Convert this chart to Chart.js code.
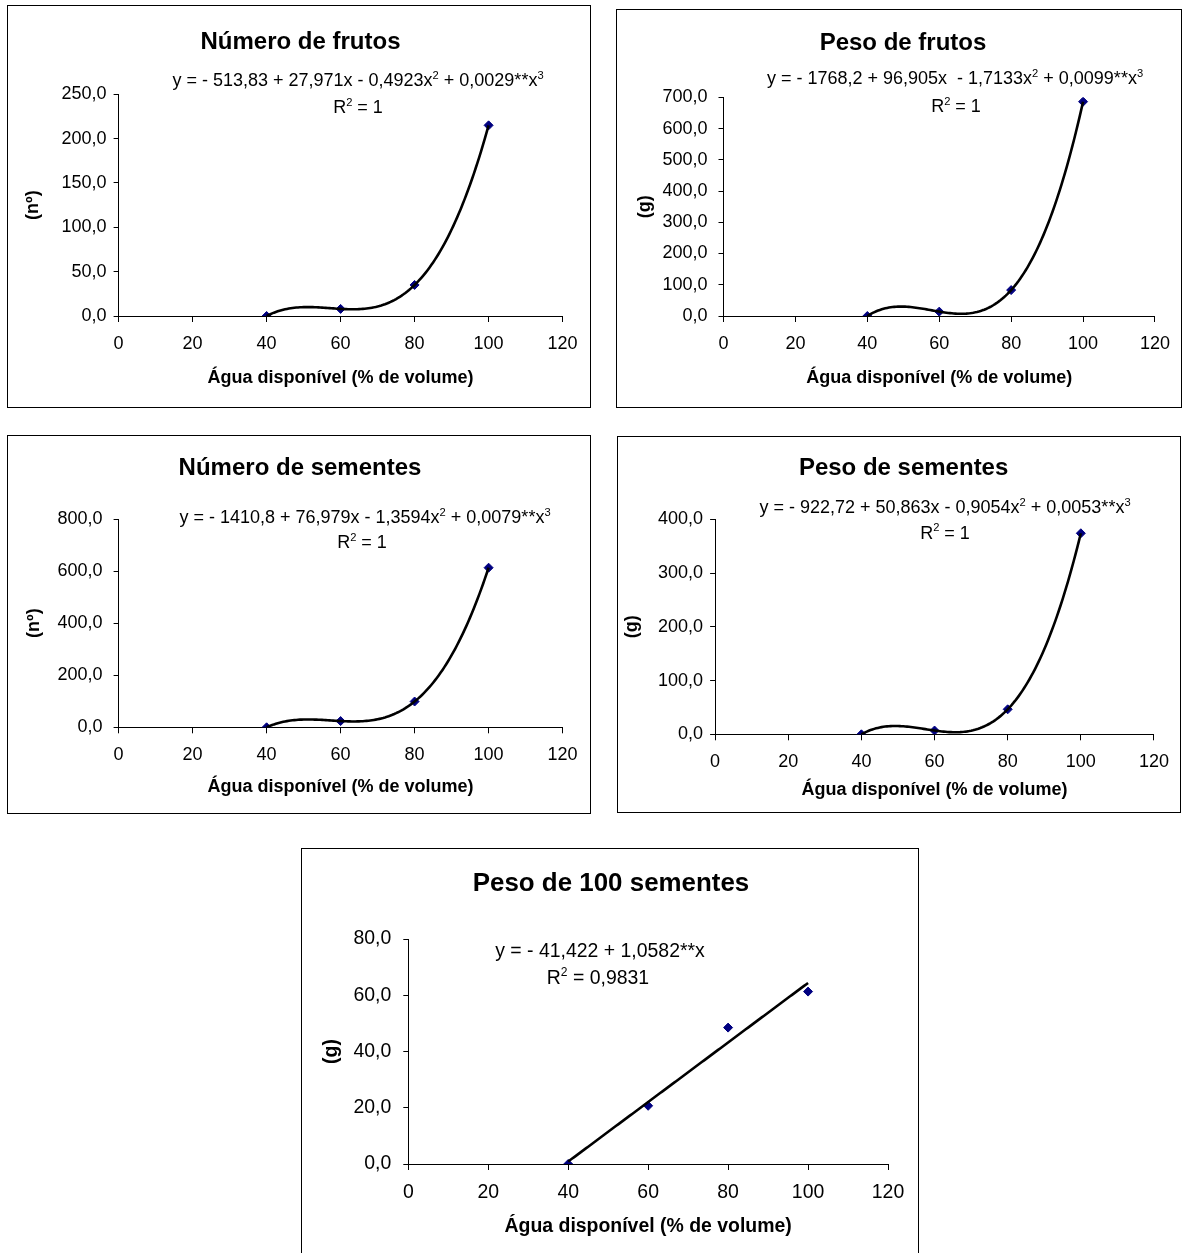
<!DOCTYPE html>
<html>
<head>
<meta charset="utf-8">
<script src="https://cdn.jsdelivr.net/npm/chart.js@4.4.0/dist/chart.umd.min.js"></script>
<style>
  html, body { margin: 0; padding: 0; background: #fff; }
  body { width: 1183px; height: 1253px; position: relative; overflow: hidden; }
  .panel { position: absolute; border: 1px solid #000; box-sizing: border-box; background: #fff; }
  .panel canvas { position: absolute; left: 0; top: 0; }
</style>
</head>
<body>
<div id="p1" class="panel"><canvas></canvas></div>
<div id="p2" class="panel"><canvas></canvas></div>
<div id="p3" class="panel"><canvas></canvas></div>
<div id="p4" class="panel"><canvas></canvas></div>
<div id="p5" class="panel"><canvas></canvas></div>
<script>
// Available water levels (% of volume) and the x-axis ticks
const waterLevels = [40, 60, 80, 100];
const xTicks = [0, 20, 40, 60, 80, 100, 120];
const xAxisTitle = 'Água disponível (% de volume)';

// Measured responses at each water level
const fruitCount   = [0, 8, 35, 215];
const fruitWeight  = [0, 14, 83, 686];
const seedCount    = [0, 24, 99, 613];
const seedWeight   = [0, 7, 46.5, 374];
const seed100Weight = [0, 20.7, 48.5, 61.3];

// Y-axis ticks per panel
const fruitCountTicks   = [0, 50, 100, 150, 200, 250];
const fruitWeightTicks  = [0, 100, 200, 300, 400, 500, 600, 700];
const seedCountTicks    = [0, 200, 400, 600, 800];
const seedWeightTicks   = [0, 100, 200, 300, 400];
const seed100WeightTicks = [0, 20, 40, 60, 80];

// Titles, regression equations (inner arrays are superscripts) and R²
const titles = ['Número de frutos', 'Peso de frutos', 'Número de sementes', 'Peso de sementes', 'Peso de 100 sementes'];
const yLabels = ['(nº)', '(g)', '(nº)', '(g)', '(g)'];
const equations = [
  ['y = - 513,83 + 27,971x - 0,4923x', ['2'], ' + 0,0029**x', ['3']],
  ['y = - 1768,2 + 96,905x  - 1,7133x', ['2'], ' + 0,0099**x', ['3']],
  ['y = - 1410,8 + 76,979x - 1,3594x', ['2'], ' + 0,0079**x', ['3']],
  ['y = - 922,72 + 50,863x - 0,9054x', ['2'], ' + 0,0053**x', ['3']],
  ['y = - 41,422 + 1,0582**x']
];
const r2Labels = [
  ['R', ['2'], ' = 1'],
  ['R', ['2'], ' = 1'],
  ['R', ['2'], ' = 1'],
  ['R', ['2'], ' = 1'],
  ['R', ['2'], ' = 0,9831']
];

const FONT = '"Liberation Sans", Arial, sans-serif';

// Least-squares polynomial fit (x centred and scaled for conditioning)
function fitPolynomial(xs, ys, degree) {
  const n = degree + 1;
  const mid = (xs[0] + xs[xs.length - 1]) / 2;
  const half = (xs[xs.length - 1] - xs[0]) / 2;
  const A = Array.from({ length: n }, () => new Array(n + 1).fill(0));
  xs.forEach((x0, i) => {
    const u = (x0 - mid) / half;
    for (let r = 0; r < n; r++) {
      for (let c = 0; c < n; c++) A[r][c] += Math.pow(u, r + c);
      A[r][n] += ys[i] * Math.pow(u, r);
    }
  });
  for (let col = 0; col < n; col++) {
    let piv = col;
    for (let r = col + 1; r < n; r++) if (Math.abs(A[r][col]) > Math.abs(A[piv][col])) piv = r;
    [A[col], A[piv]] = [A[piv], A[col]];
    for (let r = 0; r < n; r++) {
      if (r === col) continue;
      const f = A[r][col] / A[col][col];
      for (let c = col; c <= n; c++) A[r][c] -= f * A[col][c];
    }
  }
  const coef = A.map((row, i) => row[n] / row[i]);
  return x => {
    const u = (x - mid) / half;
    return coef.reduce((s, c, i) => s + c * Math.pow(u, i), 0);
  };
}

// Text with superscript pieces, centred on (cx, cy)
function drawRich(ctx, segs, cx, cy, size, bold) {
  const supSize = size * 0.62;
  const weight = bold ? 'bold ' : '';
  const parts = segs.map(s => Array.isArray(s) ? { t: s[0], sup: true } : { t: s, sup: false });
  let total = 0;
  parts.forEach(p => {
    ctx.font = weight + (p.sup ? supSize : size) + 'px ' + FONT;
    p.w = ctx.measureText(p.t).width;
    total += p.w;
  });
  let x = cx - total / 2;
  const base = cy + size * 0.358;
  ctx.textAlign = 'left';
  ctx.textBaseline = 'alphabetic';
  parts.forEach(p => {
    ctx.font = weight + (p.sup ? supSize : size) + 'px ' + FONT;
    ctx.fillText(p.t, x, p.sup ? base - size * 0.42 : base);
    x += p.w;
  });
}

const fmtY = v => v.toFixed(1).replace('.', ',');

const panels = [
  { id: 'p1', values: fruitCount, yTicks: fruitCountTicks, degree: 3,
    layout: { box: [7, 5, 590, 407], plot: [118.6, 94.3, 562.6, 316], titleAt: [300.5, 40], eqAt: [358, 80], r2At: [358, 107], yTitleX: 33, xTitleY: 378, yGap: 12, scale: 1 } },
  { id: 'p2', values: fruitWeight, yTicks: fruitWeightTicks, degree: 3,
    layout: { box: [616, 9, 1181, 407], plot: [723.5, 97.3, 1160, 316], titleAt: [903, 41], eqAt: [955, 78], r2At: [956, 106], yTitleX: 645, xTitleY: 378, yGap: 16, scale: 1 } },
  { id: 'p3', values: seedCount, yTicks: seedCountTicks, degree: 3,
    layout: { box: [7, 435, 590, 813], plot: [118.6, 519, 562.6, 727.3], titleAt: [300, 466.7], eqAt: [365, 516.7], r2At: [362, 541.7], yTitleX: 34, xTitleY: 786.7, yGap: 16, scale: 1 } },
  { id: 'p4', values: seedWeight, yTicks: seedWeightTicks, degree: 3,
    layout: { box: [617, 436, 1180, 812], plot: [715.1, 519.3, 1159.3, 734.3], titleAt: [903.6, 466.7], eqAt: [945, 506.7], r2At: [945, 532.3], yTitleX: 632, xTitleY: 790, yGap: 12, scale: 1 } },
  { id: 'p5', values: seed100Weight, yTicks: seed100WeightTicks, degree: 1,
    layout: { box: [301, 848, 918, 1262], plot: [408.3, 939, 888, 1164], titleAt: [611, 881.7], eqAt: [600, 950], r2At: [598, 977], yTitleX: 332, xTitleY: 1226.7, yGap: 17, scale: 1.08 } }
];

panels.forEach((p, idx) => {
  const L = p.layout;
  const [bl, bt, br, bb] = L.box;
  const el = document.getElementById(p.id);
  el.style.left = bl + 'px';
  el.style.top = bt + 'px';
  el.style.width = (br - bl + 1) + 'px';
  el.style.height = (bb - bt + 1) + 'px';
  const ox = bl + 1, oy = bt + 1;
  const W = br - bl - 1, H = bb - bt - 1;
  const canvas = el.querySelector('canvas');
  canvas.width = W;
  canvas.height = H;

  const k = L.scale;
  const tickSize = 18 * k, axisSize = 18 * k, titleSize = 24 * k, eqSize = 18 * k;
  const axLH = axisSize * 1.2;
  const left = L.plot[0] - ox, top = L.plot[1] - oy, right = L.plot[2] - ox, bottom = L.plot[3] - oy;

  // Trend line fitted to the measured points over the data range
  const trend = fitPolynomial(waterLevels, p.values, p.degree);
  const curve = [];
  const x0 = waterLevels[0], x1 = waterLevels[waterLevels.length - 1];
  for (let x = x0; x <= x1 + 1e-9; x += 0.5) curve.push({ x: x, y: trend(x) });

  const textPlugin = {
    id: 'panelText',
    afterDraw(chart) {
      const ctx = chart.ctx;
      ctx.save();
      ctx.fillStyle = '#000';
      drawRich(ctx, [titles[idx]], L.titleAt[0] - ox, L.titleAt[1] - oy, titleSize, true);
      drawRich(ctx, equations[idx], L.eqAt[0] - ox, L.eqAt[1] - oy, eqSize, false);
      drawRich(ctx, r2Labels[idx], L.r2At[0] - ox, L.r2At[1] - oy, eqSize, false);
      ctx.restore();
    }
  };

  new Chart(canvas, {
    type: 'scatter',
    data: {
      datasets: [
        { type: 'line', data: curve, borderColor: '#000', borderWidth: 2.6, pointRadius: 0, tension: 0, fill: false, order: 0 },
        { data: waterLevels.map((x, i) => ({ x: x, y: p.values[i] })), pointStyle: 'rectRot', pointRadius: 4.5,
          backgroundColor: '#000080', borderColor: '#000080', borderWidth: 1, order: 1 }
      ]
    },
    options: {
      responsive: false,
      animation: false,
      devicePixelRatio: 1,
      layout: { padding: { left: 0, top: top, right: W - right, bottom: 0 } },
      plugins: { legend: { display: false }, tooltip: { enabled: false } },
      scales: {
        x: {
          type: 'linear', position: 'bottom',
          min: xTicks[0], max: xTicks[xTicks.length - 1],
          afterBuildTicks: s => { s.ticks = xTicks.map(v => ({ value: v })); },
          afterFit: s => { s.height = H - bottom; },
          grid: { display: true, drawOnChartArea: false, drawTicks: true, tickLength: 6, color: '#000', lineWidth: 1 },
          border: { display: true, color: '#000', width: 1 },
          ticks: { padding: 11, color: '#000', autoSkip: false, maxRotation: 0, font: { family: FONT, size: tickSize }, callback: v => String(v) },
          title: { display: true, text: xAxisTitle, color: '#000', font: { family: FONT, size: axisSize, weight: 'bold' },
                   padding: { top: 0, bottom: H - (L.xTitleY - oy) - axLH / 2 } }
        },
        y: {
          type: 'linear', position: 'left',
          min: p.yTicks[0], max: p.yTicks[p.yTicks.length - 1],
          afterBuildTicks: s => { s.ticks = p.yTicks.map(v => ({ value: v })); },
          afterFit: s => { s.width = left; },
          grid: { display: true, drawOnChartArea: false, drawTicks: true, tickLength: 5, color: '#000', lineWidth: 1 },
          border: { display: true, color: '#000', width: 1 },
          ticks: { padding: L.yGap - 5, color: '#000', autoSkip: false, font: { family: FONT, size: tickSize }, callback: v => fmtY(v) },
          title: { display: true, text: yLabels[idx], color: '#000', font: { family: FONT, size: axisSize, weight: 'bold' },
                   padding: { top: (L.yTitleX - ox) - axLH / 2, bottom: 0 } }
        }
      }
    },
    plugins: [textPlugin]
  });
});
</script>
</body>
</html>
